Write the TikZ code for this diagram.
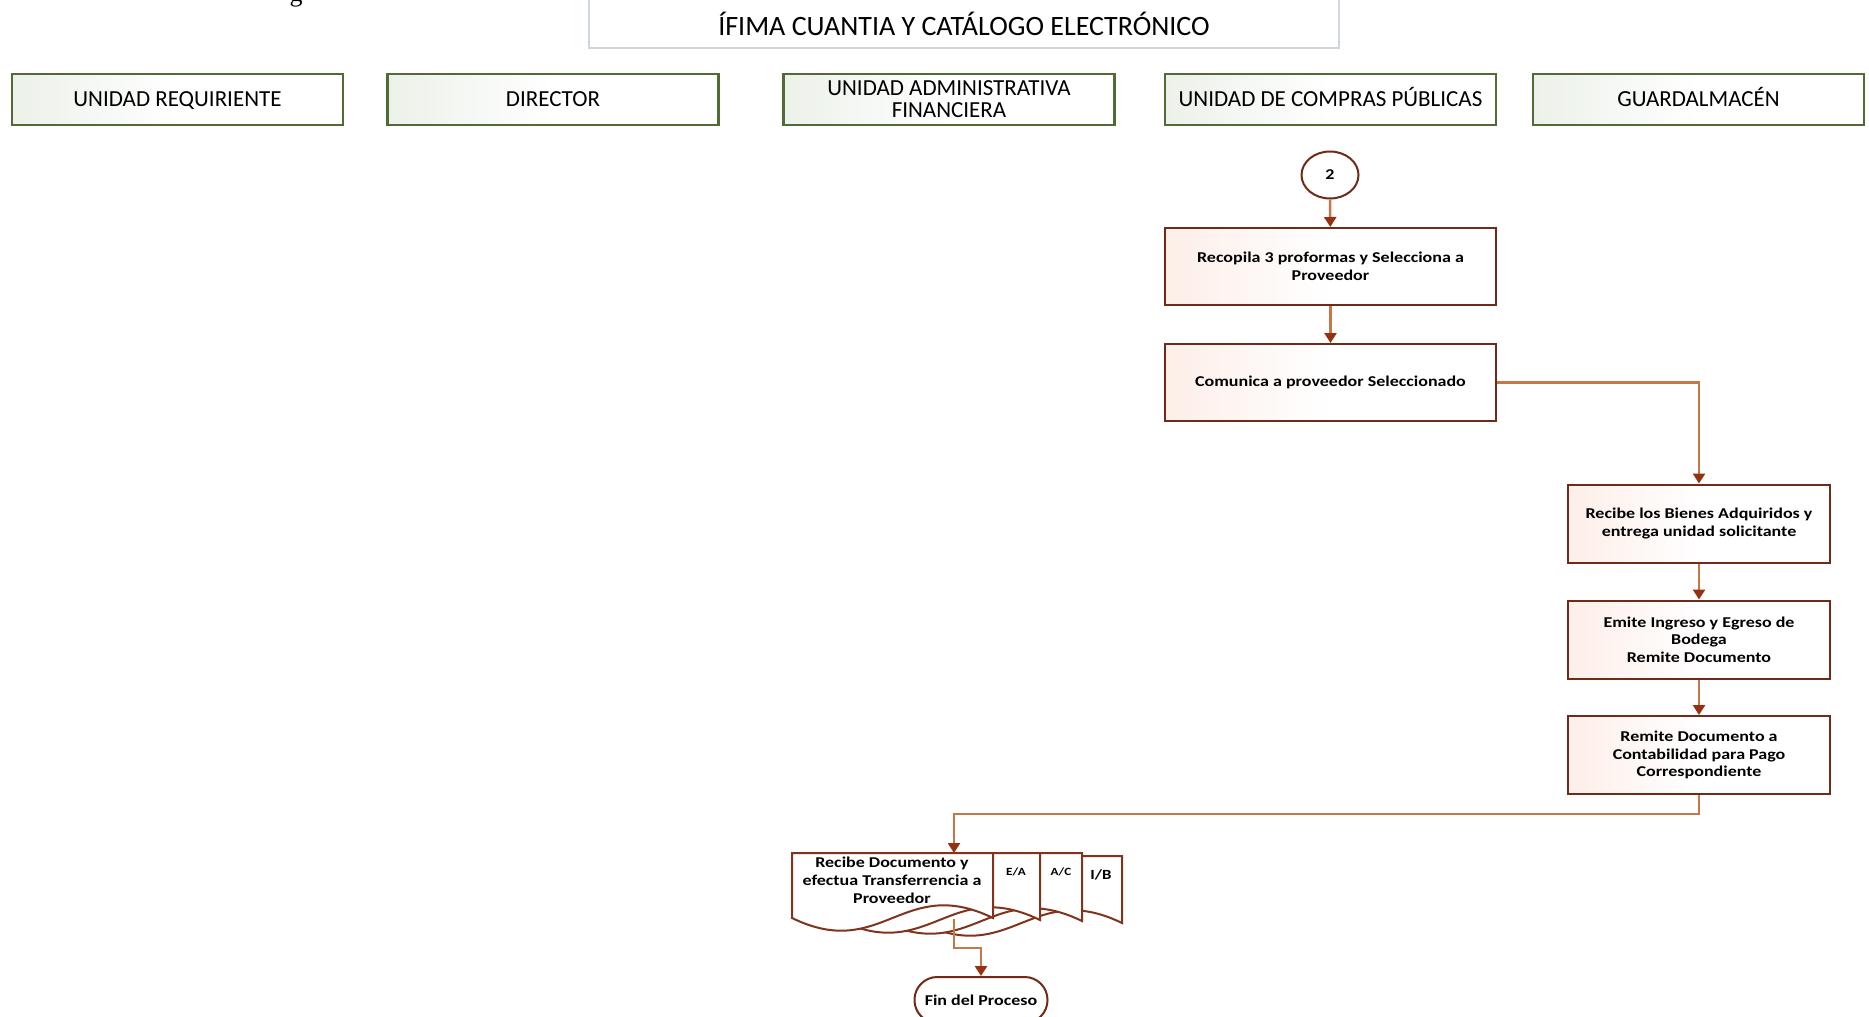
\documentclass[tikz,border=0pt]{standalone}
\usepackage{fontspec}
\setmainfont{Carlito}
\newfontfamily\serifface{Liberation Serif}
\newfontfamily\stepfont[FakeStretch=1.2]{Carlito}
\usetikzlibrary{arrows.meta,shapes.geometric,calc}

\definecolor{lanegreen}{RGB}{80,108,52}
\definecolor{laneglow}{RGB}{236,241,233}
\definecolor{boxbrown}{RGB}{112,42,24}
\definecolor{boxglow}{RGB}{253,238,232}
\definecolor{flowline}{RGB}{196,120,74}
\definecolor{tipred}{RGB}{150,48,16}
\definecolor{titleedge}{RGB}{208,214,224}
\definecolor{docline}{RGB}{128,52,28}

\begin{document}
\begin{tikzpicture}[x=0.5pt,y=-0.5pt,
  lane/.style={draw=lanegreen, line width=1.2pt, minimum width=165.5pt,
    minimum height=25.5pt, left color=laneglow, right color=white,
    middle color=white, font=\fontsize{11.5}{11}\selectfont, align=center,
    inner sep=0pt},
  oneline/.style={text height=7.4pt, text depth=0pt},
  stepbox/.style={draw=boxbrown, line width=1pt, left color=boxglow,
    right color=white, middle color=white,
    font=\stepfont\bfseries\fontsize{7.5}{8.75}\selectfont, align=center,
    inner sep=0pt},
  wide/.style={minimum width=165.5pt, minimum height=38.5pt},
  narrow/.style={minimum width=131pt, minimum height=39pt},
  flow/.style={draw=flowline, line width=1.25pt,
    -{Triangle[width=6pt,length=5pt,color=tipred]}},
  docedge/.style={draw=docline, line width=1pt, fill=white},
  tag/.style={font=\stepfont\bfseries\fontsize{5.5}{6}\selectfont, inner sep=0pt}
]
\useasboundingbox (0,0) rectangle (1869,1017);

% descender of a caption line above the frame
\node[font=\serifface\fontsize{13}{15}\selectfont, anchor=base, inner sep=0pt]
  (capg) at (296,2) {g};

% title frame (top edge runs off the page)
\draw[titleedge, line width=0.8pt] (589,-10) -- (589,48) -- (1339,48) -- (1339,-10);
\node[font=\fontsize{14}{15}\selectfont, inner sep=0pt] (title) at (964,24)
  {ÍFIMA CUANTIA Y CATÁLOGO ELECTRÓNICO};

% swimlane headers
\node[lane, oneline] (ur)  at (177.5,99.5)  {UNIDAD REQUIRIENTE};
\node[lane, oneline] (dir) at (553,99.5)    {DIRECTOR};
\node[lane] (uaf) at (949,99.5)    {UNIDAD ADMINISTRATIVA\\FINANCIERA};
\node[lane, oneline] (ucp) at (1330.5,99.5) {UNIDAD DE COMPRAS PÚBLICAS};
\node[lane, oneline] (gua) at (1698.5,99.5) {GUARDALMACÉN};

% connector 2
\node[ellipse, draw=boxbrown, line width=1pt, fill=white, minimum width=28.5pt,
  minimum height=23.5pt, inner sep=0pt, font=\stepfont\bfseries\fontsize{7.5}{9}\selectfont]
  (c2) at (1330,175) {2};

% process steps
\node[stepbox, wide] (b1) at (1330.5,266.5) {Recopila 3 proformas y Selecciona a\\Proveedor};
\node[stepbox, wide] (b2) at (1330.5,382.5) {Comunica a proveedor Seleccionado};
\node[stepbox, narrow] (b3) at (1699,523.5) {Recibe los Bienes Adquiridos y\\entrega unidad solicitante};
\node[stepbox, narrow] (b4) at (1699,639.5) {Emite Ingreso y Egreso de\\Bodega\\Remite Documento};
\node[stepbox, narrow] (b5) at (1699,755) {Remite Documento a\\Contabilidad para Pago\\Correspondiente};

% stacked documents, back to front
\foreach \dx/\dy/\dt in {129/5/3, 89/3/0, 47/2/0, 0/0/0} {
  \pgfmathsetmacro\xl{792+\dx}
  \pgfmathsetmacro\xr{993+\dx}
  \pgfmathsetmacro\yt{853+\dt}
  \pgfmathsetmacro\yw{918+\dy}
  \pgfmathsetmacro\ca{\xl+0.45*201}
  \pgfmathsetmacro\cb{\xl+0.55*201}
  \path[docedge] (\xl,\yt) -- (\xr,\yt) -- (\xr,\yw)
    .. controls (\cb,{\yw-44}) and (\ca,{\yw+44}) .. (\xl,\yw) -- cycle;
}
\node[font=\stepfont\bfseries\fontsize{7.5}{9}\selectfont, align=center, inner sep=0pt]
  (doc) at (892,880) {Recibe Documento y\\efectua Transferrencia a\\Proveedor};
\node[tag] (ea) at (1016,872) {E/A};
\node[tag] (ac) at (1061,872) {A/C};
\node[tag, font=\stepfont\bfseries\fontsize{7}{8}\selectfont] (ib) at (1101,875) {I/B};

% end terminator
\node[draw=boxbrown, line width=1pt, rounded corners=11.4pt, minimum width=66.5pt,
  minimum height=23pt, fill=white, inner sep=0pt,
  font=\stepfont\bfseries\fontsize{7.5}{9}\selectfont] (fin) at (981,1000) {Fin del Proceso};

% connectors
\coordinate (j1) at (954,814);
\coordinate (docTop) at (954,853);
\coordinate (docBot) at (954,919);
\coordinate (j2) at (954,948);

\draw[flow] (c2) -- (b1);
\draw[flow] (b1) -- (b2);
\draw[flow] (b2) -| (b3);
\draw[flow] (b3) -- (b4);
\draw[flow] (b4) -- (b5);
\draw[flow] (b5.south) |- (j1) -- (docTop);
\draw[flow] (docBot) -- (j2) -| (fin.north);
\end{tikzpicture}
\end{document}
